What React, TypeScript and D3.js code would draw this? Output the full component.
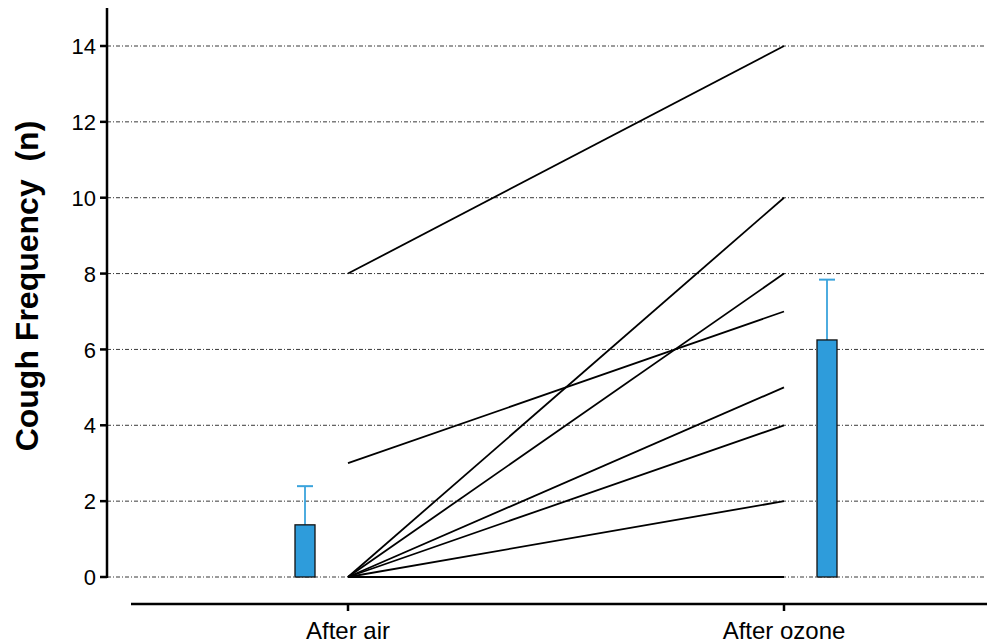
import React from "react";
import * as d3 from "d3";

const categories = ["After air", "After ozone"];
const afterAir = [8, 3, 0, 0, 0, 0, 0, 0];
const afterOzone = [14, 7, 10, 8, 5, 4, 2, 0];
const barMeans = [1.375, 6.25];
const barErrors = [1.02, 1.59];
const yTicks = [0, 2, 4, 6, 8, 10, 12, 14];

export default function App() {
  const W = 991, H = 643;
  const y = d3.scaleLinear().domain([0, 14]).range([577, 46]);
  const x = d3.scalePoint<string>().domain(categories).range([348, 784]);
  const barOffset = [-43, 43];
  const barW = 20;
  const axisX = 107;
  const font = "'Liberation Sans', Arial, Helvetica, sans-serif";
  const line = d3.line<[number, number]>().x(d => d[0]).y(d => d[1]);

  return (
    <svg width={W} height={H} style={{ position: "absolute", left: 0, top: 0 }}>
      <rect width={W} height={H} fill="white" />
      {yTicks.map(t => (
        <g key={t}>
          <line x1={axisX} x2={985} y1={y(t)} y2={y(t)} stroke="#222" strokeWidth={0.9} strokeDasharray="4,2,1,2" />
          <line x1={axisX - 7} x2={axisX} y1={y(t)} y2={y(t)} stroke="black" strokeWidth={2.5} />
          <text x={96} y={y(t)} dy="0.37em" textAnchor="end" fontFamily={font} fontSize={22}>{t}</text>
        </g>
      ))}
      {afterAir.map((a, i) => (
        <path key={i} d={line([[x(categories[0])!, y(a)], [x(categories[1])!, y(afterOzone[i])]]) || ""} stroke="black" strokeWidth={1.8} fill="none" />
      ))}
      {categories.map((c, i) => {
        const cx = x(c)! + barOffset[i];
        return (
          <g key={c}>
            <line x1={cx} x2={cx} y1={y(barMeans[i])} y2={y(barMeans[i] + barErrors[i])} stroke="#3aa3dc" strokeWidth={1.8} />
            <line x1={cx - 8} x2={cx + 8} y1={y(barMeans[i] + barErrors[i])} y2={y(barMeans[i] + barErrors[i])} stroke="#3aa3dc" strokeWidth={2} />
            <rect x={cx - barW / 2} y={y(barMeans[i])} width={barW} height={y(0) - y(barMeans[i])} fill="#2e9cdb" stroke="#111" strokeWidth={1.3} />
          </g>
        );
      })}
      <line x1={axisX} x2={axisX} y1={8} y2={y(0) + 1} stroke="black" strokeWidth={2.5} />
      <line x1={131} x2={987} y1={604} y2={604} stroke="black" strokeWidth={2.5} />
      {categories.map(c => (
        <g key={c}>
          <line x1={x(c)!} x2={x(c)!} y1={604} y2={611} stroke="black" strokeWidth={2.5} />
          <text x={x(c)!} y={639} textAnchor="middle" fontFamily={font} fontSize={24}>{c}</text>
        </g>
      ))}
      <text transform={`translate(38,${286}) rotate(-90)`} textAnchor="middle" fontFamily={font} fontSize={32} fontWeight="bold" style={{ whiteSpace: "pre" }} xmlSpace="preserve">Cough Frequency  (n)</text>
    </svg>
  );
}
